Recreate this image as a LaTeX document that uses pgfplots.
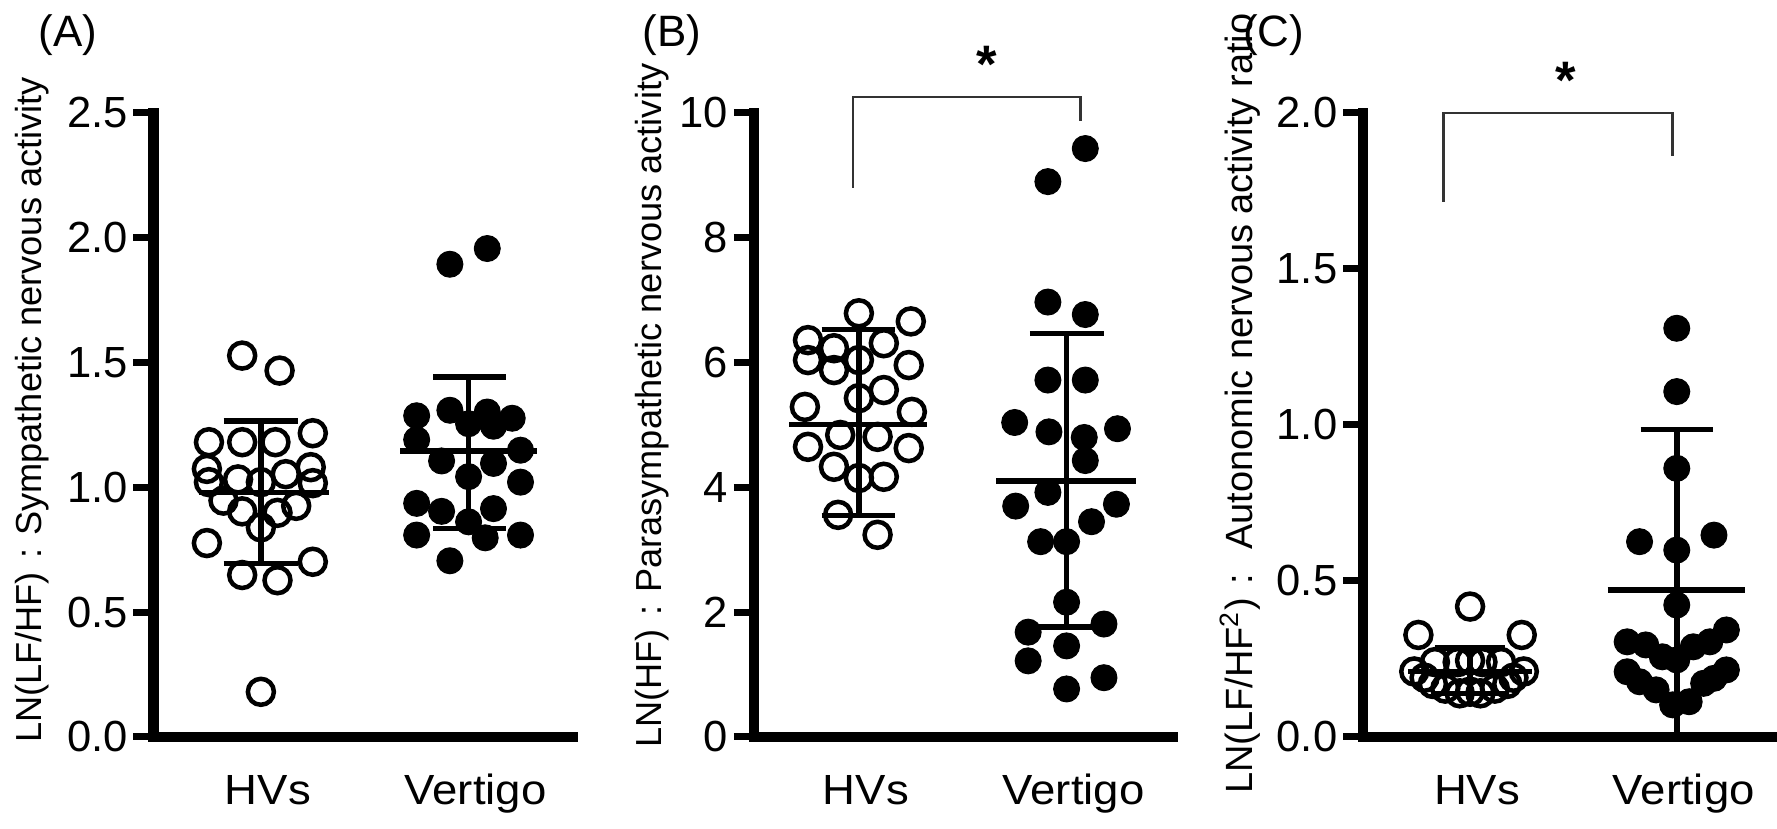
\documentclass[border=0pt]{standalone}
\usepackage{fontspec}
\setmainfont{Liberation Sans}
\usepackage{graphicx}
\usepackage{pgfplots}
\pgfplotsset{compat=1.18}

\pgfplotsset{
  panel/.style={
    anchor=south west,
    axis x line=bottom, axis y line=left,
    axis line style={-, line width=1.05mm, line cap=rect},
    xmin=0.482, xmax=2.5, x=20.77mm,
    ymin=0,
    xtick={1,2},
    xticklabels={\scalebox{1.08}[1]{HVs},\scalebox{1.08}[1]{Vertigo}},
    xtick style={draw=none},
    ytick style={line width=0.7mm, black},
    tick align=outside, major tick length=2mm,
    xticklabel style={font=\fontsize{12}{14}\selectfont, anchor=base, yshift=-4.8mm, xshift=0.7mm},
    yticklabel style={font=\fontsize{12.4}{14}\selectfont, anchor=east, inner sep=0pt, xshift=-0.5mm},
    /pgf/number format/assume math mode=true,
    ylabel style={anchor=base, font=\fontsize{10.3}{12}\selectfont},
    clip=false,
  },
  hv/.style={only marks, mark=o, mark size=1.3mm, mark options={line width=0.45mm, draw=black}},
  vt/.style={only marks, mark=*, mark size=1.3mm, mark options={draw=black, fill=black, line width=0.1mm}},
  eb/.style={line width=0.55mm, black, mark=none},
  br/.style={line width=0.25mm, black!80, mark=none},
}

\begin{document}
\begin{tikzpicture}

% ---------------- Panel A ----------------
\begin{axis}[panel, at={(15.33mm,9.2mm)}, y=24.96mm, ymax=2.5,
  ytick={0,0.5,1,1.5,2,2.5},
  yticklabel style={/pgf/number format/fixed, /pgf/number format/fixed zerofill, /pgf/number format/precision=1},
  ylabel={LN(LF/HF)\makebox[1em]{:}Sympathetic nervous activity},
  ylabel style={at={(axis description cs:-0.266,0.524)}}]
  % mean and SD
  \addplot[eb] coordinates {(0.70,0.979) (1.33,0.979)};
  \addplot[eb] coordinates {(1,0.696) (1,1.266)};
  \addplot[eb] coordinates {(0.82,1.266) (1.18,1.266)};
  \addplot[eb] coordinates {(0.82,0.696) (1.18,0.696)};
  \addplot[eb] coordinates {(1.67,1.145) (2.33,1.145)};
  \addplot[eb] coordinates {(2,0.836) (2,1.443)};
  \addplot[eb] coordinates {(1.83,1.443) (2.18,1.443)};
  \addplot[eb] coordinates {(1.83,0.836) (2.18,0.836)};
  % HVs
  \addplot[hv] coordinates {
    (0.91,1.528) (1.09,1.468) (0.75,1.181) (0.91,1.181) (1.07,1.181) (1.25,1.217)
    (0.74,1.074) (1.24,1.081) (1.12,1.053) (0.89,1.032) (1.00,1.021) (0.75,1.021)
    (1.25,1.017) (0.82,0.947) (1.17,0.926) (0.91,0.904) (1.08,0.898) (1.00,0.840)
    (0.74,0.777) (1.25,0.702) (0.91,0.649) (1.08,0.628) (1.00,0.181)};
  % Vertigo
  \addplot[vt] coordinates {
    (1.91,1.894) (2.09,1.957) (1.75,1.287) (1.91,1.309) (2.09,1.302) (2.21,1.277)
    (2.00,1.255) (2.12,1.245) (1.75,1.191) (2.25,1.149) (1.87,1.106) (2.12,1.096)
    (2.00,1.043) (2.25,1.021) (1.75,0.936) (1.87,0.904) (2.12,0.915) (2.00,0.862)
    (1.75,0.809) (2.08,0.798) (2.25,0.809) (1.91,0.706)};
\end{axis}

% ---------------- Panel B ----------------
\begin{axis}[panel, at={(75.38mm,9.2mm)}, y=6.24mm, ymax=10, xmin=0.494, xmax=2.51,
  ytick={0,2,4,6,8,10},
  ylabel={LN(HF)\makebox[1em]{:}Parasympathetic nervous activity},
  ylabel style={at={(axis description cs:-0.220,0.531)}}]
  \addplot[eb] coordinates {(0.664,5.01) (1.327,5.01)};
  \addplot[eb] coordinates {(1,3.55) (1,6.53)};
  \addplot[eb] coordinates {(0.82,6.53) (1.174,6.53)};
  \addplot[eb] coordinates {(0.82,3.55) (1.174,3.55)};
  \addplot[eb] coordinates {(1.661,4.10) (2.335,4.10)};
  \addplot[eb] coordinates {(2,1.76) (2,6.47)};
  \addplot[eb] coordinates {(1.823,6.47) (2.18,6.47)};
  \addplot[eb] coordinates {(1.823,1.76) (2.18,1.76)};
  \addplot[hv] coordinates {
    (1.00,6.79) (1.25,6.66) (0.755,6.36) (0.88,6.23) (1.12,6.31) (0.755,6.04)
    (0.88,5.88) (1.00,6.04) (1.24,5.96) (1.12,5.56) (1.00,5.43) (0.74,5.29)
    (1.255,5.21) (0.91,4.84) (1.09,4.81) (0.755,4.65) (1.24,4.63) (0.88,4.33)
    (1.12,4.17) (1.00,4.15) (0.90,3.56) (1.09,3.24)};
  \addplot[vt] coordinates {
    (2.09,9.43) (1.91,8.90) (1.91,6.97) (2.09,6.77) (1.91,5.72) (2.09,5.72)
    (1.75,5.04) (1.915,4.89) (2.245,4.94) (2.085,4.80) (2.09,4.43) (1.91,3.92)
    (1.755,3.70) (2.24,3.73) (2.12,3.45) (1.875,3.13) (2.00,3.13) (2.00,2.16)
    (1.815,1.68) (2.18,1.81) (2.00,1.46) (1.815,1.22) (2.00,0.77) (2.18,0.95)};
  \addplot[br] coordinates {(0.971,8.80) (0.971,10.26) (2.068,10.26) (2.068,9.87)};
  \node[font=\fontsize{15}{18}\selectfont\bfseries, inner sep=0pt] at (axis cs:1.614,10.78) {*};
\end{axis}

% ---------------- Panel C ----------------
\begin{axis}[panel, at={(136.3mm,9.2mm)}, y=31.2mm, ymax=2, x=20.67mm,
  ytick={0,0.5,1,1.5,2},
  yticklabel style={/pgf/number format/fixed, /pgf/number format/fixed zerofill, /pgf/number format/precision=1},
  ylabel={LN(LF/HF\textsuperscript{2})\makebox[1em]{:} Autonomic nervous activity ratio},
  ylabel style={at={(axis description cs:-0.264,0.534)}, font=\fontsize{10.8}{12}\selectfont}]
  \addplot[eb] coordinates {(0.70,0.21) (1.30,0.21)};
  \addplot[eb] coordinates {(1,0.14) (1,0.285)};
  \addplot[eb] coordinates {(0.83,0.285) (1.17,0.285)};
  \addplot[eb] coordinates {(0.83,0.14) (1.17,0.14)};
  \addplot[eb] coordinates {(1.665,0.471) (2.33,0.471)};
  \addplot[eb] coordinates {(2,0) (2,0.986)};
  \addplot[eb] coordinates {(1.825,0.986) (2.175,0.986)};
  \addplot[hv] coordinates {
    (1.00,0.418) (0.75,0.327) (1.25,0.327)
    (0.83,0.24) (0.94,0.24) (1.06,0.24) (1.15,0.24) (1.00,0.245)
    (0.73,0.21) (1.26,0.21) (0.78,0.19) (1.21,0.19) (0.82,0.17) (1.18,0.17)
    (0.88,0.155) (1.12,0.155) (0.95,0.14) (1.05,0.14) (1.00,0.145)};
  \addplot[vt] coordinates {
    (2,1.31) (2,1.107) (2,0.861) (1.82,0.626) (2.18,0.647) (2,0.599) (2,0.423)
    (1.76,0.305) (1.85,0.295) (1.93,0.257) (2,0.247) (2.08,0.289) (2.16,0.305) (2.24,0.343)
    (1.76,0.209) (1.82,0.177) (1.90,0.151) (1.98,0.103) (2.06,0.113) (2.13,0.172)
    (2.18,0.188) (2.24,0.215)};
  \addplot[br] coordinates {(0.872,1.716) (0.872,2.0) (1.98,2.0) (1.98,1.861)};
  \node[font=\fontsize{15}{18}\selectfont\bfseries, inner sep=0pt] at (axis cs:1.464,2.106) {*};
\end{axis}

\node[font=\fontsize{12.5}{14}\selectfont, anchor=base] at (6.8mm,78.2mm) {(A)};
\node[font=\fontsize{12.5}{14}\selectfont, anchor=base] at (67.2mm,78.2mm) {(B)};
\node[font=\fontsize{12.5}{14}\selectfont, anchor=base] at (127.35mm,78.2mm) {(C)};

\pgfresetboundingbox
\path[use as bounding box] (0,0) rectangle (177.7mm,82.9mm);
\end{tikzpicture}
\end{document}
